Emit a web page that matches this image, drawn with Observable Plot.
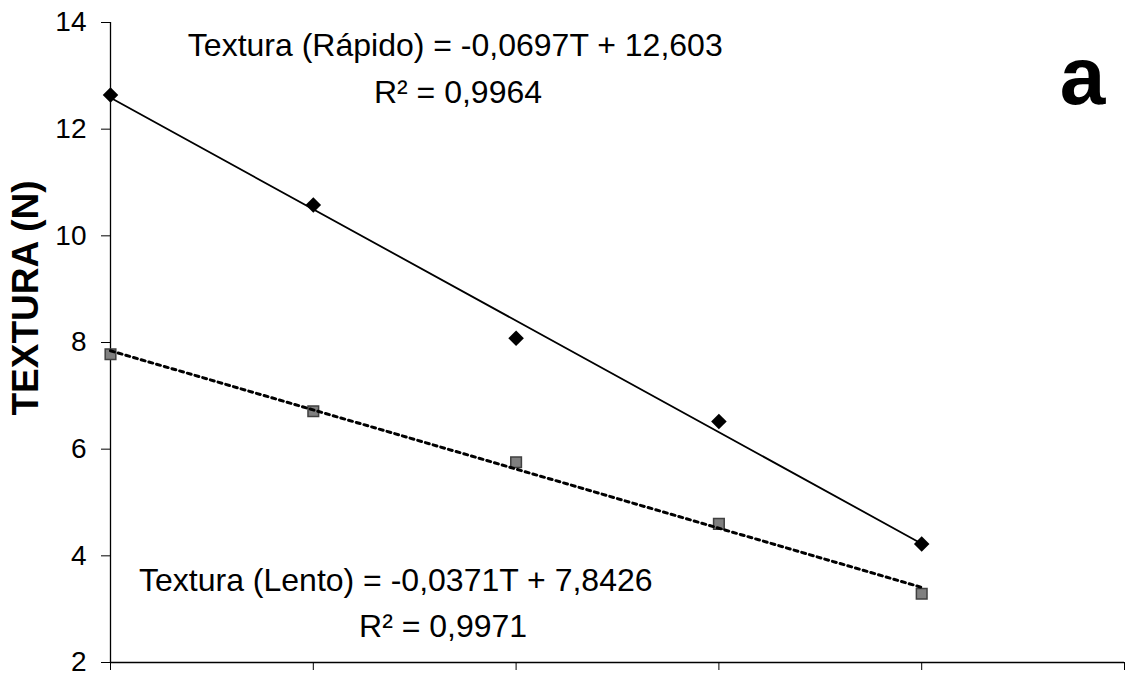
<!DOCTYPE html>
<html>
<head>
<meta charset="utf-8">
<script src="https://cdn.jsdelivr.net/npm/d3@7"></script>
<script src="https://cdn.jsdelivr.net/npm/@observablehq/plot@0.6"></script>
<style>
  html, body { margin: 0; padding: 0; background: #fff; }
  #chart svg { display: block; }
  #chart g[aria-label="y-axis tick label"] text { font-size: 28px; }
</style>
</head>
<body>
<div id="chart"></div>
<script>
// Tiempo (T) values and measured textura (N)
const tiempo = [0, 30, 60, 90, 120];
const texturaRapido = [12.64, 10.58, 8.08, 6.52, 4.22];
const texturaLento = [7.78, 6.71, 5.755, 4.60, 3.29];
const yTicks = [2, 4, 6, 8, 10, 12, 14];
const xTicks = [0, 30, 60, 90, 120, 150];

const eqRapido = "Textura (Rápido) = -0,0697T + 12,603";
const r2Rapido = "R² = 0,9964";
const eqLento = "Textura (Lento) = -0,0371T + 7,8426";
const r2Lento = "R² = 0,9971";
const yTitle = "TEXTURA (N)";
const panelLabel = "a";

const rapido = tiempo.map((t, i) => ({t, v: texturaRapido[i]}));
const lento = tiempo.map((t, i) => ({t, v: texturaLento[i]}));

const font = "'Liberation Sans', Arial, sans-serif";

const plot = Plot.plot({
  width: 1126,
  height: 675,
  marginLeft: 110,
  marginRight: 2,
  marginTop: 22,
  marginBottom: 13,
  style: {fontFamily: font, background: "#fff", color: "#000", overflow: "visible"},
  x: {domain: [0, 150]},
  y: {domain: [2, 14]},
  marks: [
    Plot.axisY({ticks: yTicks, tickSize: 9, tickPadding: 15, fontSize: 28, label: null, stroke: "#000"}),
    Plot.axisX({ticks: xTicks, tickSize: 8, tickFormat: () => "", label: null, stroke: "#000"}),
    Plot.ruleX([0], {stroke: "#000", strokeWidth: 1.3}),
    Plot.ruleY([2], {stroke: "#000", strokeWidth: 1.3}),
    Plot.dot(lento, {x: "t", y: "v", symbol: "square", r: 6, fill: "#808080", stroke: "#404040", strokeWidth: 1.5}),
    Plot.dot(rapido, {x: "t", y: "v", symbol: "diamond2", r: 7, fill: "#000", stroke: "none"}),
    Plot.linearRegressionY(rapido, {x: "t", y: "v", ci: 0, stroke: "#000", strokeWidth: 1.8}),
    Plot.linearRegressionY(lento, {x: "t", y: "v", ci: 0, stroke: "#000", strokeWidth: 3, strokeDasharray: "4,4"}),
    Plot.text([eqRapido], {x: 51.0, y: 13.38, text: d => d, textAnchor: "middle", lineAnchor: "bottom", fontSize: 32, fill: "#000"}),
    Plot.text([r2Rapido], {x: 51.4, y: 12.5, text: d => d, textAnchor: "middle", lineAnchor: "bottom", fontSize: 32, fill: "#000"}),
    Plot.text([eqLento], {x: 42.2, y: 3.35, text: d => d, textAnchor: "middle", lineAnchor: "bottom", fontSize: 32, fill: "#000"}),
    Plot.text([r2Lento], {x: 49.2, y: 2.47, text: d => d, textAnchor: "middle", lineAnchor: "bottom", fontSize: 32, fill: "#000"}),
    Plot.text([panelLabel], {x: 143.8, y: 12.48, text: d => d, textAnchor: "middle", lineAnchor: "bottom", fontSize: 82, fontWeight: "bold", fill: "#000"}),
    Plot.text([yTitle], {frameAnchor: "left", text: d => d, rotate: -90, dx: -84, dy: -44.5, textAnchor: "middle", lineAnchor: "middle", fontSize: 37, fontWeight: "bold", fill: "#000"})
  ]
});

document.getElementById("chart").appendChild(plot);
</script>
</body>
</html>
